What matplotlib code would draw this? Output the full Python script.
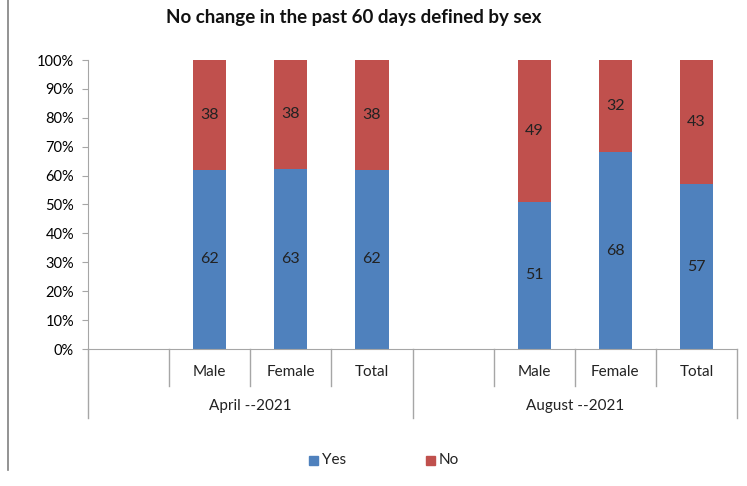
import matplotlib
matplotlib.use("Agg")
import matplotlib.pyplot as plt
from matplotlib.lines import Line2D
from matplotlib.patches import Rectangle
import numpy as np

plt.rcParams['font.family'] = ['Lato', 'DejaVu Sans']

groups = ["April --2021", "August --2021"]
subcats = ["", "Male", "Female", "Total"]
yes_vals = [None, 62, 63, 62, None, 51, 68, 57]
no_vals = [None, 38, 38, 38, None, 49, 32, 43]
yticks = [0, 10, 20, 30, 40, 50, 60, 70, 80, 90, 100]

blue = "#4F81BD"
red = "#C0504D"
gray = "#A6A6A6"

fig = plt.figure(figsize=(7.47, 4.86), dpi=100)
L, R, B, T = 88/747, 737/747, (486-349)/486, (486-60)/486
ax = fig.add_axes([L, B, R-L, T-B])

n = len(yes_vals)
x = np.arange(n)
for i in range(n):
    if yes_vals[i] is None:
        continue
    tot = yes_vals[i] + no_vals[i]
    y = yes_vals[i] / tot * 100
    nn = no_vals[i] / tot * 100
    ax.bar(x[i], y, width=0.41, color=blue, zorder=2)
    ax.bar(x[i], nn, bottom=y, width=0.41, color=red, zorder=2)
    ax.text(x[i], y/2, str(yes_vals[i]), ha='center', va='center', fontsize=11.5, color='#222222')
    ax.text(x[i], y + nn/2, str(no_vals[i]), ha='center', va='center', fontsize=11.5, color='#222222')

ax.set_xlim(-0.5, n-0.5)
ax.set_ylim(0, 100)
ax.set_yticks(yticks)
ax.set_yticklabels([f"{v}%" for v in yticks], fontsize=10.5)
ax.tick_params(axis='y', length=4, color=gray, pad=6)
ax.set_xticks([])
for s in ['top', 'right']:
    ax.spines[s].set_visible(False)
ax.spines['left'].set_color(gray)
ax.spines['bottom'].set_color(gray)

# hierarchical category axis
trans = ax.get_xaxis_transform()
px = 1.0 / (349 - 60)
for i in range(n + 1):
    xe = i - 0.5
    if i % 4 == 0:
        ax.add_line(Line2D([xe, xe], [0, -69*px], transform=trans, color=gray, lw=1, clip_on=False))
    else:
        ax.add_line(Line2D([xe, xe], [0, -37*px], transform=trans, color=gray, lw=1, clip_on=False))
for i in range(n):
    lab = subcats[i % 4]
    if lab:
        ax.text(x[i], -23*px, lab, transform=trans, ha='center', va='center', fontsize=11, color='#222222')
for g, name in enumerate(groups):
    ax.text(g*4 + 1.5, -57*px, name, transform=trans, ha='center', va='center', fontsize=11, color='#222222')

fig.text(354/747, 1 - 18/486, "No change in the past 60 days defined by sex", ha='center', va='center',
         fontsize=13.5, fontweight='bold', color='#111111')

# legend
for xx, col, lab in [(309, blue, "Yes"), (426, red, "No")]:
    fig.add_artist(Rectangle((xx/747, 1 - 465/486), 9/747, 9/486, color=col, transform=fig.transFigure))
    fig.text((xx+13)/747, 1 - 460/486, lab, ha='left', va='center', fontsize=11, color='#222222')

fig.add_artist(Line2D([8/747, 8/747], [1 - 470/486, 1.0], transform=fig.transFigure, color='#808080', lw=1.2))

fig.savefig("out.png", dpi=100)
